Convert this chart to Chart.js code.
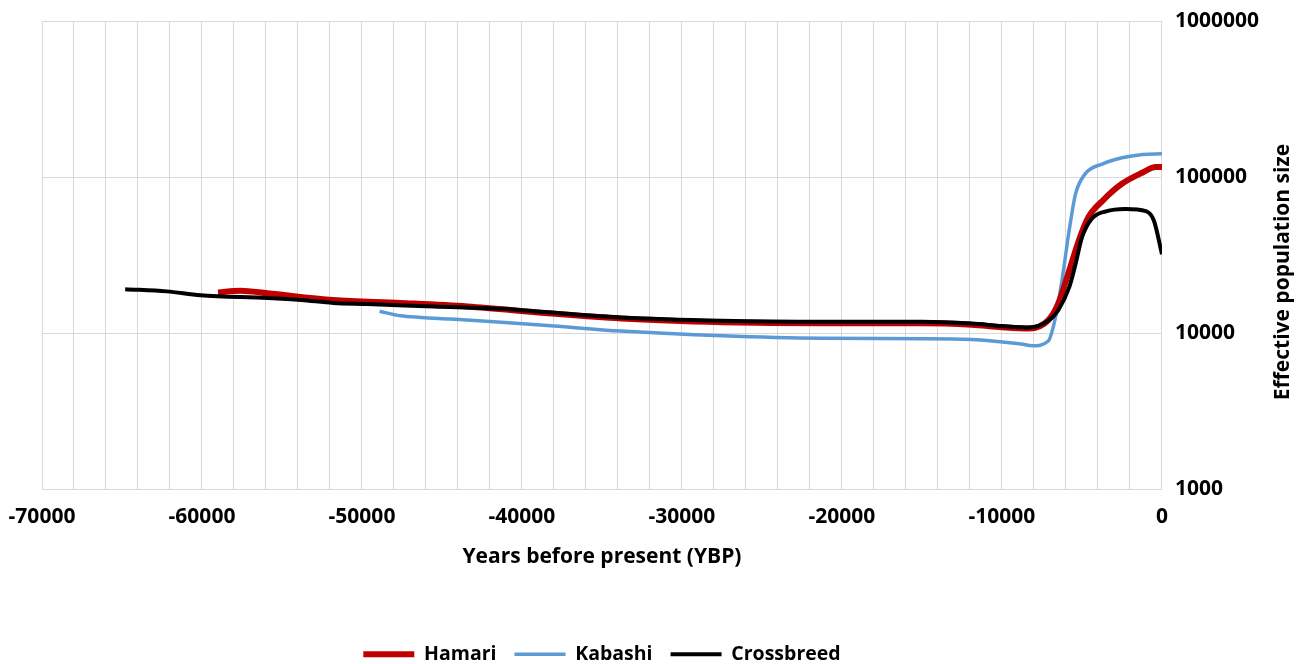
<!DOCTYPE html>
<html>
<head>
<meta charset="utf-8">
<script src="https://cdn.jsdelivr.net/npm/chart.js@4"></script>
<style>
  html, body { margin: 0; padding: 0; background: #fff; }
  #wrap { width: 1304px; height: 664px; }
</style>
</head>
<body>
<div id="wrap"><canvas id="chart"></canvas></div>
<script>
// values (years before present, effective population size)
const hamariYears = [-59000, -57600, -55900, -51800, -47600, -43400, -38400, -33800, -27500, -21300, -15000, -11900, -10000, -8300, -7100, -6500, -5800, -5200, -4600, -3700, -2500, -1200, -400, 0];
const hamariNe = [18200, 18700, 18000, 16300, 15600, 14800, 13400, 12400, 11750, 11550, 11550, 11300, 10900, 10700, 12100, 15300, 25100, 39100, 55200, 70700, 90500, 107000, 116000, 116000];

const kabashiYears = [-48900, -47600, -46300, -44500, -41300, -38000, -33800, -27500, -21300, -15000, -11900, -11300, -8800, -8100, -7100, -6700, -6250, -5800, -5400, -4800, -3700, -2500, -1200, 0];
const kabashiNe = [13800, 12900, 12600, 12300, 11750, 11100, 10300, 9600, 9260, 9210, 9100, 9020, 8500, 8290, 8900, 12000, 21700, 45400, 78000, 104800, 121500, 132800, 139500, 140900];

const crossYears = [-64800, -62200, -60100, -55900, -53800, -51800, -49700, -45500, -41300, -38400, -33800, -27500, -21300, -15000, -11900, -10000, -8300, -7100, -6500, -5800, -5400, -5000, -4400, -3500, -2300, -1000, -500, 0];
const crossNe = [19100, 18500, 17500, 16800, 16300, 15600, 15350, 14800, 14300, 13600, 12600, 12000, 11800, 11800, 11500, 11100, 10850, 12000, 13900, 19600, 27700, 41000, 53900, 60300, 62500, 60500, 52500, 32000];

const yTicks = [1000, 10000, 100000, 1000000];
const yTitle = 'Effective population size';

const FONT = '"Open Sans", sans-serif';
const FSIZE = 21;

function pts(xs, ys) {
    return xs.map((x, i) => ({ x: x, y: ys[i] }));
}

// right-hand axis title, reading bottom to top like the original
const yTitlePlugin = {
    id: 'yTitle',
    afterDraw(chart) {
        const c = chart.ctx, area = chart.chartArea;
        c.save();
        c.translate(1283, (area.top + area.bottom) / 2 + 17);
        c.rotate(-Math.PI / 2);
        c.font = 'bold ' + FSIZE + 'px ' + FONT;
        c.fillStyle = '#000';
        c.textAlign = 'center';
        c.textBaseline = 'middle';
        c.fillText(yTitle, 0, 0);
        c.restore();
    }
};

let ctx = document.getElementById('chart').getContext('2d'),
myChart;

myChart = new Chart(ctx, {
    type: 'line',
    data: {
        datasets: [{
            label: 'Hamari',
            data: pts(hamariYears, hamariNe),
            borderWidth: 6,
            borderColor: '#C00000',
            backgroundColor: '#C00000',
            order: 1,
        },
        {
            label: 'Kabashi',
            data: pts(kabashiYears, kabashiNe),
            borderWidth: 3.5,
            borderColor: '#5B9BD5',
            backgroundColor: '#5B9BD5',
            order: 2,
        },
        {
            label: 'Crossbreed',
            data: pts(crossYears, crossNe),
            borderWidth: 4,
            borderColor: '#000000',
            backgroundColor: '#000000',
            order: 0,
        }]
    },
    plugins: [yTitlePlugin],
    options: {
        responsive: true,
        maintainAspectRatio: false,
        animation: false,
        elements: {
            point: { radius: 0 },
            line: { cubicInterpolationMode: 'monotone' }
        },
        layout: {
            padding: { left: 42, right: 32, top: 21, bottom: -10 }
        },
        scales: {
            x: {
                type: 'linear',
                min: -70000,
                max: 0,
                afterBuildTicks: (axis) => {
                    let t = [];
                    for (let v = -70000; v <= 0; v += 2000) t.push({ value: v });
                    axis.ticks = t;
                },
                afterFit: (axis) => { axis.paddingLeft = 0; axis.paddingRight = 0; },
                grid: { color: '#d9d9d9', lineWidth: 1, drawTicks: false },
                border: { display: false },
                ticks: {
                    autoSkip: false,
                    maxRotation: 0,
                    padding: 15,
                    color: '#000',
                    font: { family: FONT, size: FSIZE, weight: 'bold' },
                    callback: (v) => (v % 10000 === 0 ? String(v) : '')
                },
                title: {
                    display: true,
                    text: 'Years before present (YBP)',
                    color: '#000',
                    font: { family: FONT, size: FSIZE, weight: 'bold' },
                    padding: { top: 0, bottom: 57 }
                }
            },
            y: {
                type: 'logarithmic',
                position: 'right',
                min: 1000,
                max: 1000000,
                afterBuildTicks: (axis) => {
                    axis.ticks = yTicks.map(v => ({ value: v }));
                },
                afterFit: (axis) => { axis.paddingTop = 0; axis.paddingBottom = 0; },
                grid: { color: '#d9d9d9', lineWidth: 1, drawTicks: false },
                border: { display: false },
                ticks: {
                    padding: 13,
                    color: '#000',
                    font: { family: FONT, size: FSIZE, weight: 'bold' },
                    callback: (v) => String(v)
                }
            }
        },
        plugins: {
            legend: {
                position: 'bottom',
                fullSize: false,
                labels: {
                    usePointStyle: true,
                    pointStyle: 'line',
                    pointStyleWidth: 51,
                    padding: 18,
                    color: '#000',
                    font: { family: FONT, size: 19.5, weight: 'bold' },
                    sort: (a, b) => a.datasetIndex - b.datasetIndex
                }
            },
            tooltip: { enabled: false }
        }
    }
});
</script>
</body>
</html>
